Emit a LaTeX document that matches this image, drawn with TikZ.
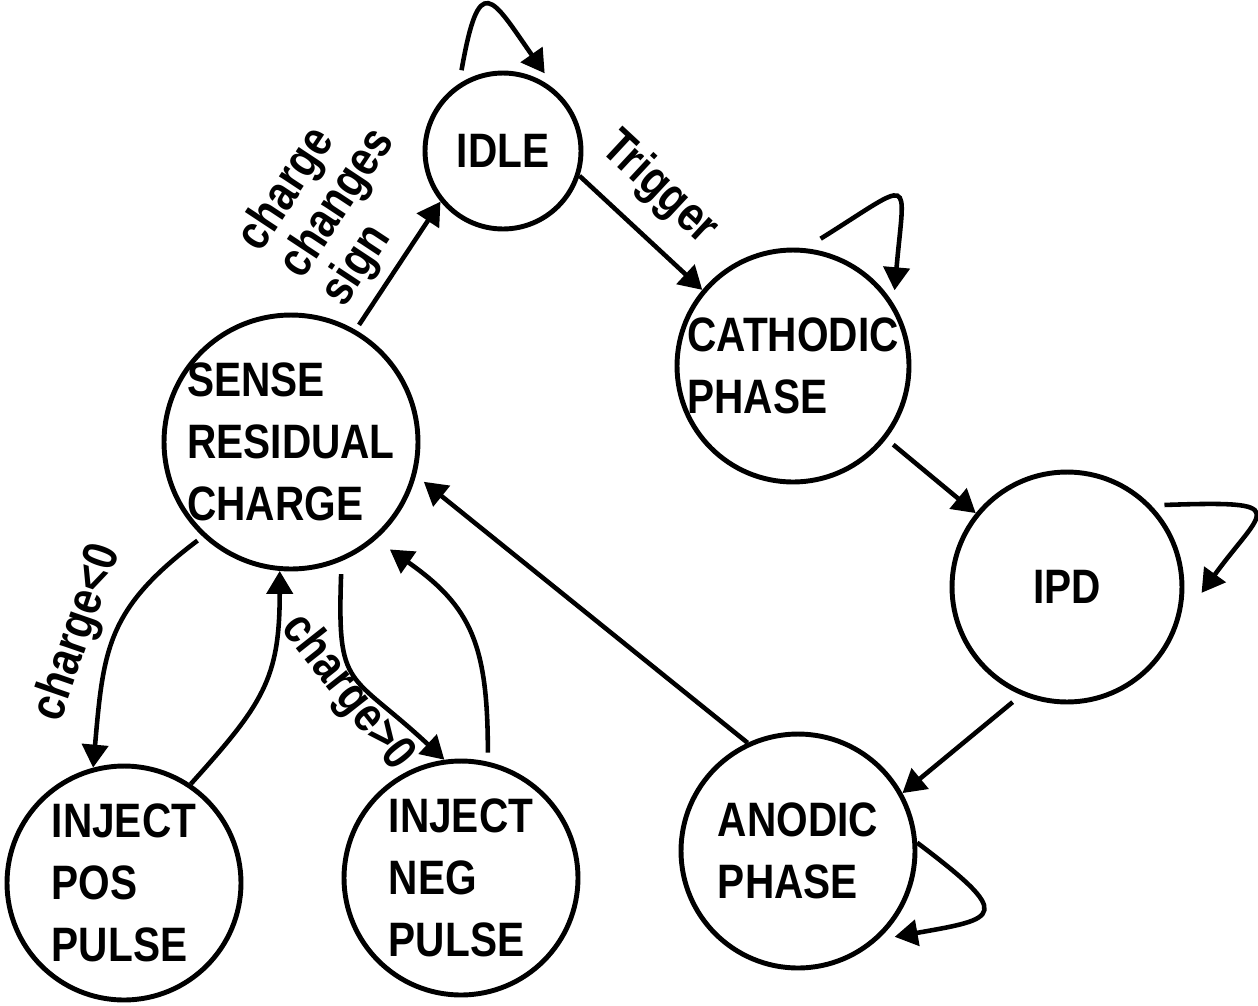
\documentclass[tikz,border=0pt]{standalone}
\usepackage{fontspec}
\setmainfont{Liberation Sans}
\newfontfamily\condensedfont{Liberation Sans}[FakeStretch=0.84]
\usetikzlibrary{arrows.meta}

\tikzset{
    phase/.style={circle, draw, line width=2.8pt, inner sep=-2pt, minimum size=#1,
        align=left, font=\condensedfont\bfseries\fontsize{27.5}{35.4}\selectfont},
    trans/.style={line width=2.6pt, -{Triangle[length=0.46cm, width=0.52cm]}},
    cond/.style={sloped, inner sep=1pt, align=left,
        font=\condensedfont\bfseries\fontsize{28}{28.5}\selectfont},
}

\begin{document}
\begin{tikzpicture}[x=0.02cm, y=-0.02cm]

    \useasboundingbox (0,0) rectangle (1258,1005);

    \node[phase=3.12cm] (idle) at (503,151) {IDLE};
    \node[phase=4.64cm] (cathodic) at (793,366) {CATHODIC\\PHASE};
    \node[phase=4.6cm] (ipd) at (1067,587) {IPD};
    \node[phase=4.68cm] (anodic) at (798,851) {ANODIC\\PHASE};
    \node[phase=5.08cm] (sense) at (291,442) {SENSE\\RESIDUAL\\CHARGE};
    \node[phase=4.68cm] (injpos) at (124,883) {INJECT\\POS\\PULSE};
    \node[phase=4.68cm] (injneg) at (461,878) {INJECT\\NEG\\PULSE};

    % stay in the same state
    \draw[trans, shorten <=0.27cm, shorten >=0.46cm] (idle.123) to[out=80, in=125, looseness=3] (idle.47);
    \draw[trans, shorten <=0.36cm, shorten >=0.26cm] (cathodic.84) to[out=32, in=85, looseness=3.2] (cathodic.32);
    \draw[trans, shorten <=0.26cm, shorten >=0.8cm] (ipd.44) to[out=2, in=54, looseness=3] (ipd.-19);
    \draw[trans, shorten >=0.34cm] (anodic.4) to[out=-37, in=10, looseness=3] (anodic.-48);

    % stimulation cycle
    \draw[trans] (idle.-18) -- node[cond, above=10pt, pos=0.4] (trig) {Trigger} (cathodic.140);
    \draw[trans, shorten <=0.18cm] (cathodic.-38) -- (ipd.141);
    \draw[trans, shorten <=0.22cm] (ipd.-113) -- (anodic.29);
    \draw[trans, shorten >=0.2cm] (anodic.115) -- (sense.-15);
    \draw[trans, shorten <=0.12cm] (sense.60) -- node[cond, above=4pt, pos=0.62] (signlbl) {charge\\changes\\sign} (idle.-141);

    % charge balancing
    \draw[trans, shorten <=0.13cm] (sense.-133) to[out=-143, in=85, looseness=1.2]
        node[cond, above=5pt, pos=0.55] (lesslbl) {charge<0} (injpos.105);
    \draw[trans] (injpos.56) to[out=48, in=-90, looseness=1.2] (sense.-95);
    \draw[trans, shorten <=0.26cm] (sense.-67) to[out=-92, in=137, looseness=1.5]
        node[cond, below=-6pt, pos=0.55] (morelbl) {charge>0} (injneg.98);
    \draw[trans, shorten <=0.18cm, shorten >=0.34cm] (injneg.77) to[out=90, in=-35, looseness=1.2] (sense.-49);

\end{tikzpicture}
\end{document}
